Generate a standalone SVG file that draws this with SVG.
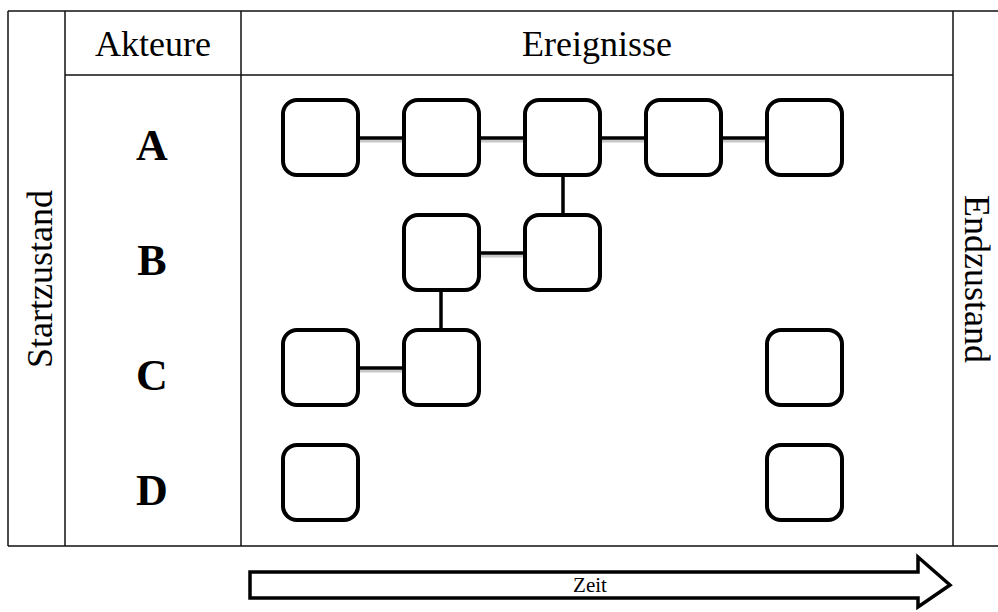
<svg xmlns="http://www.w3.org/2000/svg" width="998" height="612" viewBox="0 0 998 612">
<style>
.grid{stroke:#111;stroke-width:1.5;fill:none}
.box{fill:#fff;stroke:#000;stroke-width:4}
.con{stroke:#000;stroke-width:3.5}
.sh{stroke:#c8c8c8;stroke-width:3}
.hdr{font-family:"Liberation Serif",serif;font-size:36px;fill:#000}
.act{font-family:"Liberation Serif",serif;font-size:44px;font-weight:bold;fill:#000}
.zeit{font-family:"Liberation Serif",serif;font-size:21px;fill:#000}
</style>
<rect width="998" height="612" fill="#fff"/>
<g id="table">
<line class="grid" x1="8" y1="11" x2="998" y2="11"/>
<line class="grid" x1="8" y1="546" x2="998" y2="546"/>
<line class="grid" x1="8" y1="11" x2="8" y2="546"/>
<line class="grid" x1="65" y1="11" x2="65" y2="546"/>
<line class="grid" x1="241" y1="11" x2="241" y2="546"/>
<line class="grid" x1="953" y1="11" x2="953" y2="546"/>
<line class="grid" x1="65" y1="75" x2="953" y2="75"/>
<text class="hdr" x="153" y="56" text-anchor="middle">Akteure</text>
<text class="hdr" x="597" y="56" text-anchor="middle">Ereignisse</text>
<text class="hdr" transform="translate(52,279) rotate(-90)" text-anchor="middle">Startzustand</text>
<text class="hdr" transform="translate(965,279) rotate(90)" text-anchor="middle">Endzustand</text>
<text class="act" x="152" y="160" text-anchor="middle">A</text>
<text class="act" x="152" y="275" text-anchor="middle">B</text>
<text class="act" x="152" y="390" text-anchor="middle">C</text>
<text class="act" x="152" y="505" text-anchor="middle">D</text>
</g>
<g id="connectors">
<g class="sh">
<line x1="358" y1="141" x2="404" y2="141"/>
<line x1="479" y1="141" x2="525" y2="141"/>
<line x1="600" y1="141" x2="646" y2="141"/>
<line x1="721" y1="141" x2="767" y2="141"/>
<line x1="479" y1="256" x2="525" y2="256"/>
<line x1="358" y1="371" x2="404" y2="371"/>
</g>
<g class="con">
<line x1="358" y1="138" x2="404" y2="138"/>
<line x1="479" y1="138" x2="525" y2="138"/>
<line x1="600" y1="138" x2="646" y2="138"/>
<line x1="721" y1="138" x2="767" y2="138"/>
<line x1="563" y1="175" x2="563" y2="216"/>
<line x1="479" y1="253" x2="525" y2="253"/>
<line x1="441" y1="290" x2="441" y2="330"/>
<line x1="358" y1="368" x2="404" y2="368"/>
</g>
</g>
<g id="A1"><rect class="box" x="283" y="100" width="75" height="75" rx="14"/></g>
<g id="A2"><rect class="box" x="404" y="100" width="75" height="75" rx="14"/></g>
<g id="A3"><rect class="box" x="525" y="100" width="75" height="75" rx="14"/></g>
<g id="A4"><rect class="box" x="646" y="100" width="75" height="75" rx="14"/></g>
<g id="A5"><rect class="box" x="767" y="100" width="75" height="75" rx="14"/></g>
<g id="B2"><rect class="box" x="404" y="215" width="75" height="75" rx="14"/></g>
<g id="B3"><rect class="box" x="525" y="215" width="75" height="75" rx="14"/></g>
<g id="C1"><rect class="box" x="283" y="330" width="75" height="75" rx="14"/></g>
<g id="C2"><rect class="box" x="404" y="330" width="75" height="75" rx="14"/></g>
<g id="C5"><rect class="box" x="767" y="330" width="75" height="75" rx="14"/></g>
<g id="D1"><rect class="box" x="283" y="445" width="75" height="75" rx="14"/></g>
<g id="D5"><rect class="box" x="767" y="445" width="75" height="75" rx="14"/></g>
<g id="zeit">
<polygon points="250,572 918,572 918,557 950,585 918,607 918,598 250,598" fill="#fff" stroke="#000" stroke-width="3.5" stroke-linejoin="miter"/>
<text class="zeit" x="590" y="592" text-anchor="middle">Zeit</text>
</g>
</svg>
